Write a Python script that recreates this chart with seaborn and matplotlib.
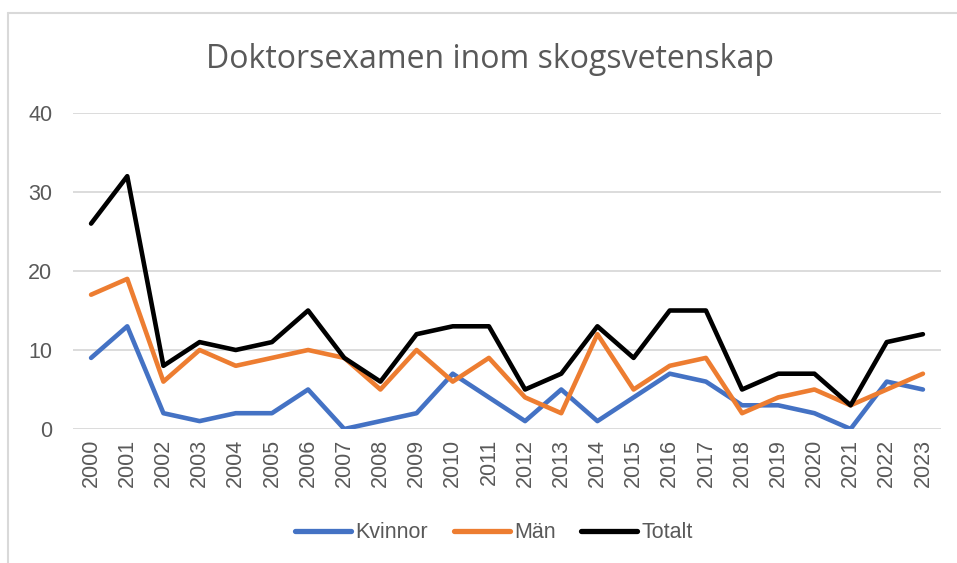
import pandas as pd
import matplotlib
matplotlib.use("Agg")
import matplotlib.pyplot as plt
from matplotlib.lines import Line2D
import seaborn as sns

years = [str(y) for y in range(2000, 2024)]
kvinnor = [9, 13, 2, 1, 2, 2, 5, 0, 1, 2, 7, 4, 1, 5, 1, 4, 7, 6, 3, 3, 2, 0, 6, 5]
man = [17, 19, 6, 10, 8, 9, 10, 9, 5, 10, 6, 9, 4, 2, 12, 5, 8, 9, 2, 4, 5, 3, 5, 7]
totalt = [26, 32, 8, 11, 10, 11, 15, 9, 6, 12, 13, 13, 5, 7, 13, 9, 15, 15, 5, 7, 7, 3, 11, 12]
series = ["Kvinnor", "Män", "Totalt"]
colors = ["#4472C4", "#ED7D31", "#000000"]

df = pd.DataFrame({"År": years * 3,
                   "Antal": kvinnor + man + totalt,
                   "Grupp": [s for s in series for _ in years]})

sns.set_style("white")
plt.rcParams["font.family"] = ["Liberation Sans", "DejaVu Sans"]
grey = "#595959"

fig = plt.figure(figsize=(9.57, 5.63), dpi=100)
ax = fig.add_axes([73 / 957, 1 - 429 / 563, 868 / 957, 316 / 563])

sns.lineplot(data=df, x="År", y="Antal", hue="Grupp", palette=colors,
             linewidth=3.3, ax=ax, legend=False, sort=False)

ax.set_xlim(-0.5, 23.5)
ax.set_ylim(0, 40)
ax.set_yticks([0, 10, 20, 30, 40])
ax.grid(axis="y", color="#d9d9d9", linewidth=1.3)
ax.set_axisbelow(True)
for s in ax.spines.values():
    s.set_visible(False)
ax.tick_params(axis="both", length=0, labelsize=15.5, labelcolor=grey)
ax.tick_params(axis="y", pad=15)
ax.tick_params(axis="x", pad=7)
plt.setp(ax.get_xticklabels(), rotation=90)
ax.set_xlabel("")
ax.set_ylabel("")

fig.text(490 / 957, 1 - 60 / 563, "Doktorsexamen inom skogsvetenskap",
         ha="center", va="center", fontsize=23, color=grey, family="Open Sans")

handles = [Line2D([], [], color=c, linewidth=3.8, solid_capstyle="round") for c in colors]
fig.legend(handles, series, loc="center", bbox_to_anchor=(494 / 957, 1 - 533 / 563),
           ncol=3, frameon=False, fontsize=15.5, labelcolor=grey,
           handlelength=2.6, handletextpad=0.2, columnspacing=1.2)

# grå ram upptill och till vänster
fig.add_artist(Line2D([8 / 957, 8 / 957], [0, 1 - 13 / 563], color="#d9d9d9", linewidth=1.5))
fig.add_artist(Line2D([8 / 957, 1], [1 - 13 / 563, 1 - 13 / 563], color="#d9d9d9", linewidth=1.5))

fig.savefig("out.png", dpi=100)
